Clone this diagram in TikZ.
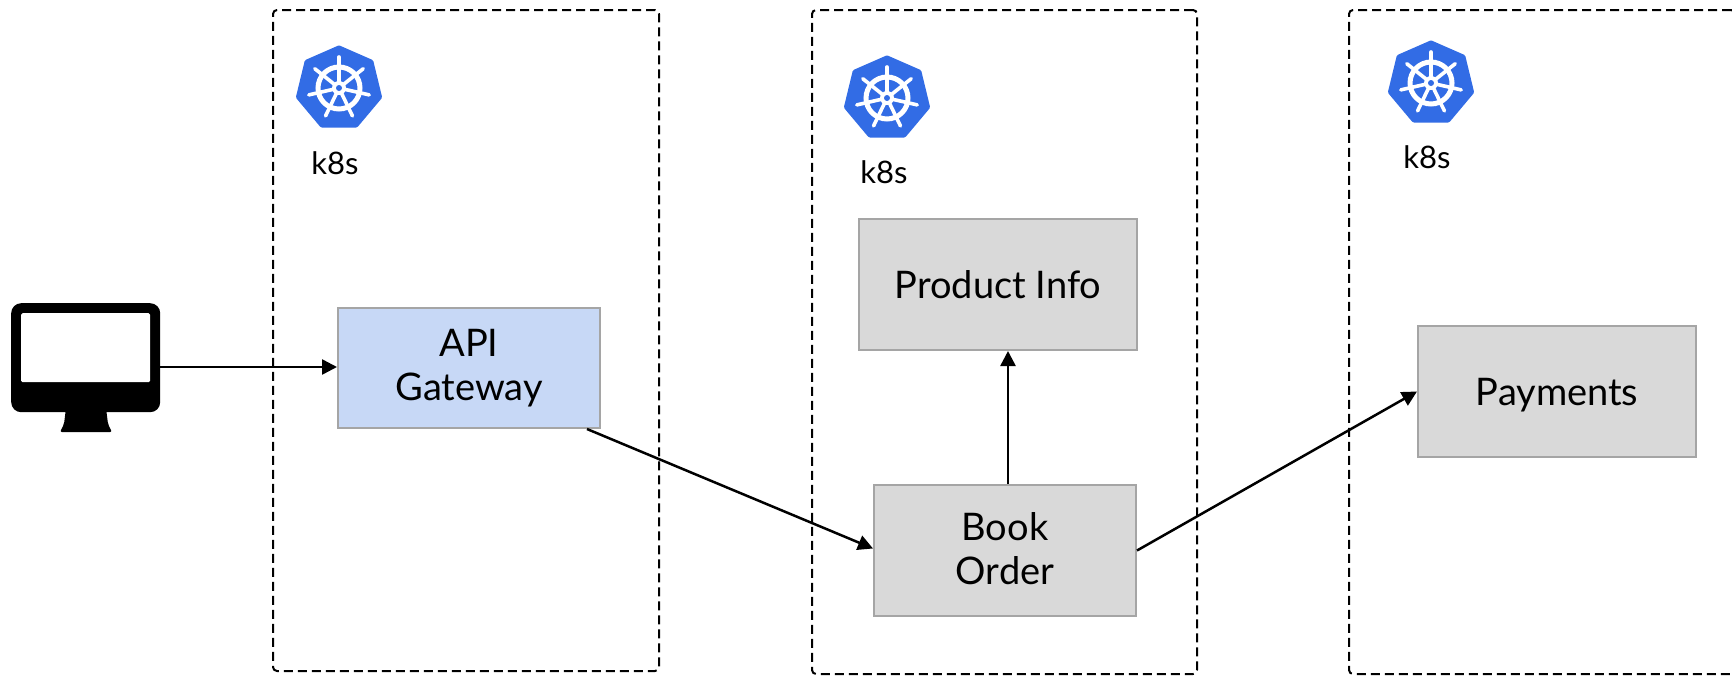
\documentclass[tikz,border=0pt]{standalone}
\usepackage{fontspec}
\setmainfont{Lato}
\usetikzlibrary{arrows.meta,calc}
\definecolor{kblue}{HTML}{326CE5}
\definecolor{boxgray}{HTML}{D9D9D9}
\definecolor{boxblue}{HTML}{C7D8F6}
\definecolor{edgegray}{HTML}{A5A5A5}
\tikzset{
  x=1pt,y=-1pt,
  group/.style={draw=black,line width=2pt,dash pattern=on 9pt off 5pt,rounded corners=4pt,anchor=north west,inner sep=0pt},
  svc/.style={draw=edgegray,line width=2pt,anchor=north west,inner sep=0pt,align=center,
    font=\fontsize{38}{44}\selectfont},
  svcgray/.style={svc,fill=boxgray},
  svcblue/.style={svc,fill=boxblue},
  lbl/.style={font=\fontsize{31}{36}\selectfont,inner sep=0pt},
  link/.style={draw=black,line width=2.5pt,-{Triangle[length=15pt,width=15pt]}},
  spoke/.style={draw=white,line width=3.6pt,line cap=round},
  k8s/.pic={
    \fill[kblue,draw=kblue,line width=5pt,line join=round]
      (0,-40) -- (32,-26) -- (40.5,9) -- (17,37) -- (-17,37) -- (-40.5,9) -- (-32,-26) -- cycle;
    \draw[white,line width=5pt] (0,0) circle[radius=21pt];
    \foreach \k in {0,...,6}{
      \draw[spoke] ({90+\k*51.4286}:5pt) -- ({90+\k*51.4286}:31pt);
    }
    \fill[white] (0,0) circle[radius=7pt];
    \fill[kblue] (0,0) circle[radius=3pt];
  }
}
\begin{document}
\begin{tikzpicture}
\useasboundingbox (0,0) rectangle (1732,675);
% groups
\node[group,minimum width=386pt,minimum height=661pt] (g1) at (272,9) {};
\node[group,minimum width=385pt,minimum height=664pt] (g2) at (811,9) {};
\node[group,minimum width=386pt,minimum height=664pt] (g3) at (1348,9) {};
% icons
\pic at (339,88) {k8s};
\pic at (887,98) {k8s};
\pic at (1431,83) {k8s};
\node[lbl] (k1) at (335,163) {k8s};
\node[lbl] (k2) at (884,172) {k8s};
\node[lbl] (k3) at (1427,157) {k8s};
% monitor
\fill[black,rounded corners=2pt] (66,408) -- (106,408) -- (108,424) -- (112,432) -- (60,432) -- (64,424) -- cycle;
\node[fill=black,rounded corners=10pt,minimum width=149pt,minimum height=109pt,anchor=north west,inner sep=0pt] (mon) at (11,303) {};
\node[fill=white,rounded corners=1.5pt,minimum width=129pt,minimum height=69pt,anchor=north west,inner sep=0pt] (screen) at (21,313) {};
% services
\node[svcblue,minimum width=262pt,minimum height=120pt] (api) at (337,307) {API\\Gateway};
\node[svcgray,minimum width=278pt,minimum height=131pt] (prod) at (858,218) {Product Info};
\node[svcgray,minimum width=262pt,minimum height=131pt,text depth=5pt] (book) at (873,484) {Book\\Order};
\node[svcgray,minimum width=278pt,minimum height=131pt,text depth=0pt] (pay) at (1417,325) {Payments};
% connectors
\coordinate (monout) at (mon.east |- 0,367);
\draw[link] (monout) -- (monout -| api.west);
\draw[link] ([xshift=-14pt]api.south east) -- ([yshift=2pt]book.west);
\draw[link] ([xshift=3pt]book.north) -- ([xshift=3pt]book.north |- prod.south);
\draw[link] (book.east) -- (pay.west);
\end{tikzpicture}
\end{document}
